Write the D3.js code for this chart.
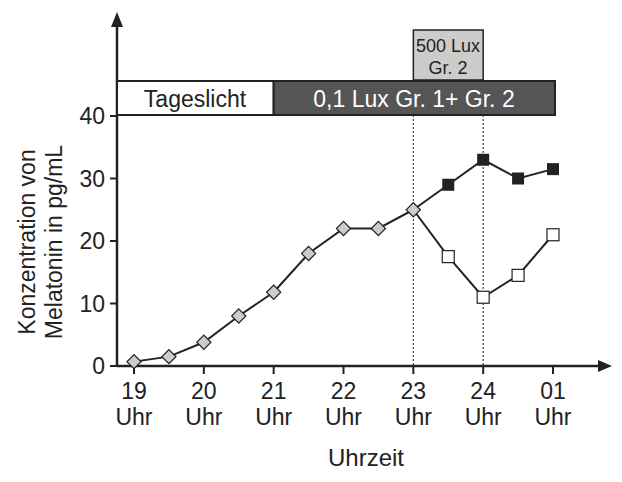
<!DOCTYPE html><html><head><meta charset="utf-8">
<script src="https://cdn.jsdelivr.net/npm/d3@7"></script>
<style>body{margin:0;background:#fff}text{font-family:"Liberation Sans Narrow",Arial,"Liberation Sans",sans-serif;fill:#222}</style></head><body>
<svg id="c" width="622" height="482"></svg>
<script>
const xTicks=[19,20,21,22,23,24,25];
const xLabels=["19","20","21","22","23","24","01"];
const yTicks=[0,10,20,30,40];
const baseX=[19,19.5,20,20.5,21,21.5,22,22.5,23];
const baseY=[0.7,1.5,3.8,8,11.8,18,22,22,25];
const g1X=[23,23.5,24,24.5,25];
const g1Y=[25,29,33,30,31.5];
const g2X=[23,23.5,24,24.5,25];
const g2Y=[25,17.5,11,14.5,21];
const svg=d3.select("#c");
const x=d3.scaleLinear().domain([19,25]).range([134,553]);
const y=d3.scaleLinear().domain([0,40]).range([366,116]);
const k="#222";
svg.append("line").attr("x1",117).attr("x2",603).attr("y1",366).attr("y2",366).attr("stroke",k).attr("stroke-width",2.5);
svg.append("path").attr("d","M612,366 L598,360 L598,372 Z").attr("fill",k);
svg.append("line").attr("x1",117).attr("x2",117).attr("y1",366).attr("y2",22).attr("stroke",k).attr("stroke-width",2.5);
svg.append("path").attr("d","M117,12 L111,27 L123,27 Z").attr("fill",k);
yTicks.forEach(t=>{svg.append("line").attr("x1",110).attr("x2",117).attr("y1",y(t)).attr("y2",y(t)).attr("stroke",k).attr("stroke-width",2);
 svg.append("text").attr("x",105).attr("y",y(t)+8).attr("text-anchor","end").attr("font-size",23).text(t);});
xTicks.forEach((t,i)=>{svg.append("line").attr("x1",x(t)).attr("x2",x(t)).attr("y1",366).attr("y2",374).attr("stroke",k).attr("stroke-width",2);
 svg.append("text").attr("x",x(t)).attr("y",399).attr("text-anchor","middle").attr("font-size",23).text(xLabels[i]);
 svg.append("text").attr("x",x(t)).attr("y",425).attr("text-anchor","middle").attr("font-size",23).text("Uhr");});
svg.append("text").attr("x",366).attr("y",466).attr("text-anchor","middle").attr("font-size",24).text("Uhrzeit");
const yl=svg.append("text").attr("transform","translate(40,242) rotate(-90)").attr("text-anchor","middle").attr("font-size",23);
yl.append("tspan").attr("x",0).attr("dy",-5).text("Konzentration von");
yl.append("tspan").attr("x",0).attr("dy",27).text("Melatonin in pg/mL");
svg.append("rect").attr("x",117).attr("y",81).attr("width",x(21)-117).attr("height",34).attr("fill","#fff").attr("stroke",k).attr("stroke-width",2);
svg.append("text").attr("x",195).attr("y",107).attr("text-anchor","middle").attr("font-size",23).text("Tageslicht");
svg.append("rect").attr("x",x(21)).attr("y",81).attr("width",x(25)-x(21)+2).attr("height",34).attr("fill","#555").attr("stroke",k).attr("stroke-width",2);
svg.append("text").attr("x",414).attr("y",107).attr("text-anchor","middle").attr("font-size",23).style("fill","#fff").text("0,1 Lux Gr. 1+ Gr. 2");
svg.append("rect").attr("x",x(23)).attr("y",30).attr("width",x(24)-x(23)).attr("height",50).attr("fill","#ccc").attr("stroke",k).attr("stroke-width",1.5);
svg.append("text").attr("x",448).attr("y",52).attr("text-anchor","middle").attr("font-size",18).text("500 Lux");
svg.append("text").attr("x",448).attr("y",74).attr("text-anchor","middle").attr("font-size",18).text("Gr. 2");
[23,24].forEach(t=>svg.append("line").attr("x1",x(t)).attr("x2",x(t)).attr("y1",115).attr("y2",366).attr("stroke",k).attr("stroke-dasharray","2,2"));
const ln=d3.line().x(d=>x(d[0])).y(d=>y(d[1]));
[[baseX,baseY],[g1X,g1Y],[g2X,g2Y]].forEach(([a,b])=>svg.append("path").attr("d",ln(a.map((v,i)=>[v,b[i]]))).attr("fill","none").attr("stroke",k).attr("stroke-width",2));
baseX.forEach((v,i)=>svg.append("path").attr("d",d3.symbol(d3.symbolSquare,100)()).attr("transform",`translate(${x(v)},${y(baseY[i])}) rotate(45)`).attr("fill","#ccc").attr("stroke",k).attr("stroke-width",1.2));
g1X.slice(1).forEach((v,i)=>svg.append("rect").attr("x",x(v)-6).attr("y",y(g1Y[i+1])-6).attr("width",12).attr("height",12).attr("fill",k));
g2X.slice(1).forEach((v,i)=>svg.append("rect").attr("x",x(v)-6).attr("y",y(g2Y[i+1])-6).attr("width",12).attr("height",12).attr("fill","#fff").attr("stroke",k).attr("stroke-width",1.2));
</script></body></html>
